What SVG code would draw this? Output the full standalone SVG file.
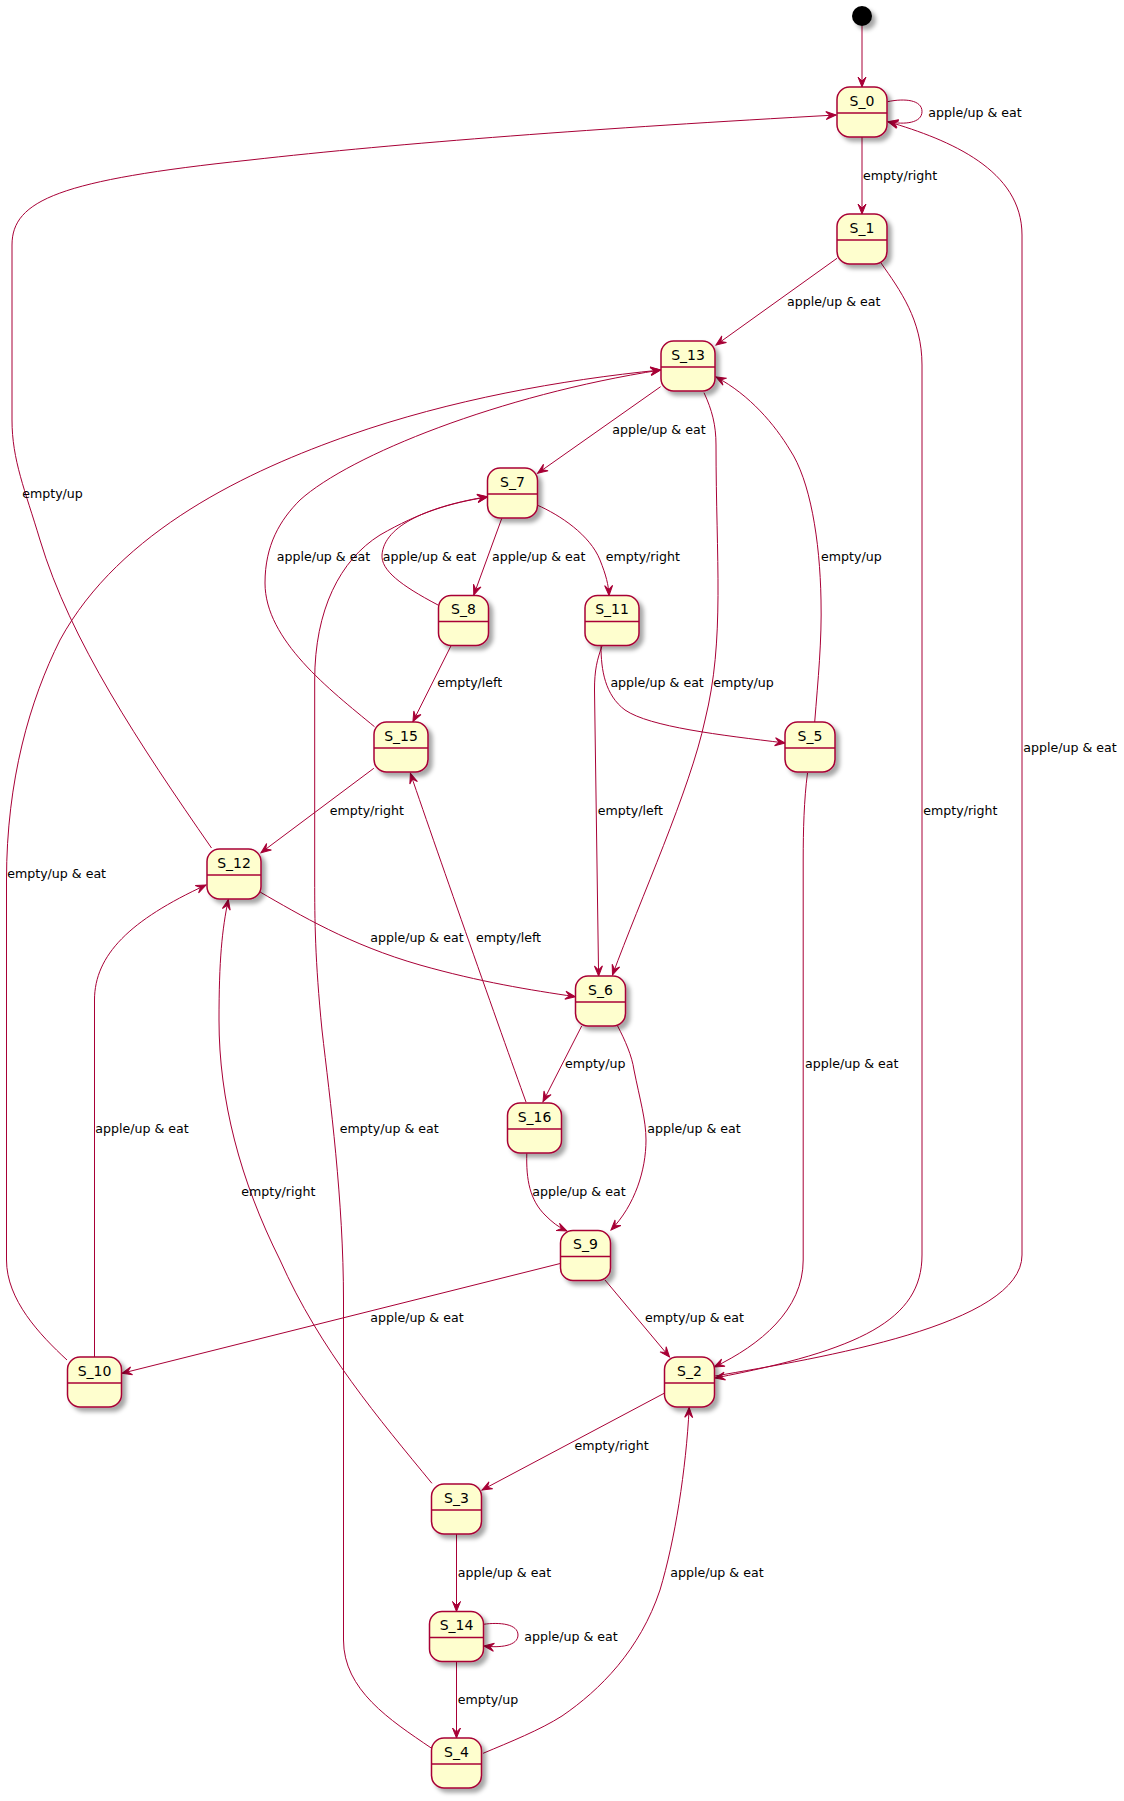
<svg xmlns="http://www.w3.org/2000/svg" width="1124" height="1801" viewBox="0 0 1124 1801">
<style>
.st{fill:#FEFECE;stroke:#A80036;stroke-width:1.5;filter:url(#sh)}
.dv{stroke:#A80036;stroke-width:1.5}
.nm{font-family:"DejaVu Sans",sans-serif;font-size:14px;fill:#000;text-anchor:middle}
.lb{font-family:"DejaVu Sans",sans-serif;font-size:12.6px;fill:#000}
.e{fill:none;stroke:#A80036;stroke-width:1;marker-end:url(#ah)}
</style>
<defs>
<filter id="sh" x="-20%" y="-20%" width="160%" height="160%">
<feDropShadow dx="4" dy="4" stdDeviation="2" flood-color="#000" flood-opacity="0.35"/>
</filter>
<marker id="ah" markerUnits="userSpaceOnUse" markerWidth="12" markerHeight="12" refX="0" refY="0" orient="auto" overflow="visible">
<path d="M0,0 L-10,-4 L-6,0 L-10,4 Z" fill="#A80036" stroke="#A80036" stroke-width="1"/>
</marker>
</defs>
<rect width="1124" height="1801" fill="#FFFFFF"/>

<g id="connectors">
<path class="e" d="M862,26 L862,87"/>
<path class="e" d="M887.5,101.7 C905,98 922,100 922,111.5 C922,123 905,125 888,121.7"/>
<path class="e" d="M862,137 L862,214"/>
<path class="e" d="M837,258.3 L716,345"/>
<path class="e" d="M881,263 C900,290 922,320 922,365 L922,1255 C922,1320 860,1350 715,1378"/>
<path class="e" d="M715,1376 C820,1358 1022,1325 1022,1255 L1022,235 C1022,170 950,140 888,121.7"/>
<path class="e" d="M660.6,386.7 L537.6,473.3"/>
<path class="e" d="M704,392.7 C712,410 716,425 716,445 C716,560 725,640 705,720 C690,790 640,900 612.5,975"/>
<path class="e" d="M814.7,722 C818,680 822,640 821,600 C820,540 810,480 790,450 C775,425 750,395 716,377"/>
<path class="e" d="M211.5,848 C140,745 70,640 40,540 C25,490 12,460 12,420 L12,245 C12,200 60,180 250,160 C400,143 600,128 836,115"/>
<path class="e" d="M67,1360 C40,1335 6.5,1300 6.5,1260 L6.5,880 C6.5,780 30,700 60,640 C120,530 250,470 350,435 C450,400 560,380 660.6,370"/>
<path class="e" d="M374.5,726.7 C330,690 265,640 265,583 C265,545 280,520 300,500 C350,455 500,395 660.6,370"/>
<path class="e" d="M501.8,518.3 L473.8,595"/>
<path class="e" d="M537,505 C560,515 590,535 600,560 C606,575 608.6,585 609,595.5"/>
<path class="e" d="M438,605 C400,585 381,570 382,555 C384,525 430,506 487.4,496.7"/>
<path class="e" d="M431.2,1748 C390,1720 343.5,1690 343.5,1640 L343.5,1300 C343.5,1200 330,1100 322,1030 C315,960 314.7,920 314.7,880 L314.7,680 C314.7,610 340,560 380,535 C420,512 450,503 487.4,497"/>
<path class="e" d="M450.9,646 L412.9,721.7"/>
<path class="e" d="M602,646 C597,660 594.5,670 594.5,690 L598.6,976"/>
<path class="e" d="M601,646 C601,670 605,695 625,710 C650,727 720,735 785,743"/>
<path class="e" d="M373.8,768.3 L261,852.7"/>
<path class="e" d="M259.5,891.7 C300,915 350,945 420,965 C480,982 530,990 575.3,996.7"/>
<path class="e" d="M94.5,1357 L94.5,1000 C94.5,955 130,920 206,885"/>
<path class="e" d="M526,1102 C500,1030 440,860 410.4,773.3"/>
<path class="e" d="M581.7,1026 L543,1101.7"/>
<path class="e" d="M617.6,1026 C625,1040 632,1056 634,1070 C640,1100 646,1120 646,1140 C646,1170 635,1205 611,1230"/>
<path class="e" d="M526.8,1153.3 C526,1180 530,1200 545,1215 C552,1222 558,1227 567,1231"/>
<path class="e" d="M605,1280 L669.5,1357"/>
<path class="e" d="M561,1263.3 L121.9,1373.3"/>
<path class="e" d="M807.5,773 C804,800 803.2,830 803.2,860 L803.2,1260 C803.2,1310 760,1345 714.3,1367"/>
<path class="e" d="M664.1,1393.3 L482,1490"/>
<path class="e" d="M431.9,1483.3 C380,1420 320,1350 280,1260 C240,1180 219,1100 219,1020 C219,960 222,930 228.3,899.5"/>
<path class="e" d="M456.5,1534 L456.5,1611.5"/>
<path class="e" d="M483.5,1624.3 C500,1622 518,1624 518,1635 C518,1646 500,1648 484,1646"/>
<path class="e" d="M456.5,1661.5 L456.5,1738"/>
<path class="e" d="M483.1,1753.3 C510,1742 540,1730 562,1716 C600,1690 640,1650 660,1590 C675,1540 686,1470 689.2,1407.5"/>

<text class="lb" x="928.3" y="116.5">apple/up &amp; eat</text>
<text class="lb" x="863" y="179.5">empty/right</text>
<text class="lb" x="787" y="306.3">apple/up &amp; eat</text>
<text class="lb" x="612.2" y="434">apple/up &amp; eat</text>
<text class="lb" x="22.2" y="497.7">empty/up</text>
<text class="lb" x="276.7" y="560.7">apple/up &amp; eat</text>
<text class="lb" x="382.8" y="560.7">apple/up &amp; eat</text>
<text class="lb" x="492" y="560.7">apple/up &amp; eat</text>
<text class="lb" x="605.7" y="560.7">empty/right</text>
<text class="lb" x="821.1" y="560.7">empty/up</text>
<text class="lb" x="437.2" y="687.3">empty/left</text>
<text class="lb" x="610.4" y="687.3">apple/up &amp; eat</text>
<text class="lb" x="713.2" y="687.3">empty/up</text>
<text class="lb" x="329.7" y="814.7">empty/right</text>
<text class="lb" x="597.8" y="814.7">empty/left</text>
<text class="lb" x="923.3" y="814.7">empty/right</text>
<text class="lb" x="1023.3" y="751.7">apple/up &amp; eat</text>
<text class="lb" x="7.2" y="878.3">empty/up &amp; eat</text>
<text class="lb" x="370.2" y="941.7">apple/up &amp; eat</text>
<text class="lb" x="476" y="941.7">empty/left</text>
<text class="lb" x="564.9" y="1068.3">empty/up</text>
<text class="lb" x="805" y="1068.3">apple/up &amp; eat</text>
<text class="lb" x="95.3" y="1132.7">apple/up &amp; eat</text>
<text class="lb" x="339.8" y="1132.7">empty/up &amp; eat</text>
<text class="lb" x="647.3" y="1132.7">apple/up &amp; eat</text>
<text class="lb" x="241.2" y="1195.7">empty/right</text>
<text class="lb" x="532.2" y="1195.7">apple/up &amp; eat</text>
<text class="lb" x="370.2" y="1322.3">apple/up &amp; eat</text>
<text class="lb" x="645.1" y="1322.3">empty/up &amp; eat</text>
<text class="lb" x="574.5" y="1449.7">empty/right</text>
<text class="lb" x="457.7" y="1576.7">apple/up &amp; eat</text>
<text class="lb" x="670.2" y="1576.7">apple/up &amp; eat</text>
<text class="lb" x="524.3" y="1640.7">apple/up &amp; eat</text>
<text class="lb" x="457.7" y="1704">empty/up</text>
</g>

<g id="start"><circle cx="862" cy="16" r="10" fill="#000" filter="url(#sh)"/></g>

<g id="S_0"><rect class="st" x="837" y="87" width="50" height="50" rx="12.5"/><line class="dv" x1="837" y1="113" x2="887" y2="113"/><text class="nm" x="862" y="105.5">S_0</text></g>
<g id="S_1"><rect class="st" x="837" y="214" width="50" height="50" rx="12.5"/><line class="dv" x1="837" y1="240" x2="887" y2="240"/><text class="nm" x="862" y="232.5">S_1</text></g>
<g id="S_13"><rect class="st" x="661" y="341" width="54" height="50" rx="12.5"/><line class="dv" x1="661" y1="367" x2="715" y2="367"/><text class="nm" x="688" y="359.5">S_13</text></g>
<g id="S_7"><rect class="st" x="487.5" y="468" width="50" height="50" rx="12.5"/><line class="dv" x1="487.5" y1="494" x2="537.5" y2="494"/><text class="nm" x="512.5" y="486.5">S_7</text></g>
<g id="S_8"><rect class="st" x="438.5" y="595.5" width="50" height="50" rx="12.5"/><line class="dv" x1="438.5" y1="621.5" x2="488.5" y2="621.5"/><text class="nm" x="463.5" y="614">S_8</text></g>
<g id="S_11"><rect class="st" x="585" y="595.5" width="54" height="50" rx="12.5"/><line class="dv" x1="585" y1="621.5" x2="639" y2="621.5"/><text class="nm" x="612" y="614">S_11</text></g>
<g id="S_15"><rect class="st" x="374" y="722" width="54" height="50" rx="12.5"/><line class="dv" x1="374" y1="748" x2="428" y2="748"/><text class="nm" x="401" y="740.5">S_15</text></g>
<g id="S_5"><rect class="st" x="785" y="722" width="50" height="50" rx="12.5"/><line class="dv" x1="785" y1="748" x2="835" y2="748"/><text class="nm" x="810" y="740.5">S_5</text></g>
<g id="S_12"><rect class="st" x="207" y="849" width="54" height="50" rx="12.5"/><line class="dv" x1="207" y1="875" x2="261" y2="875"/><text class="nm" x="234" y="867.5">S_12</text></g>
<g id="S_6"><rect class="st" x="575.5" y="976" width="50" height="50" rx="12.5"/><line class="dv" x1="575.5" y1="1002" x2="625.5" y2="1002"/><text class="nm" x="600.5" y="994.5">S_6</text></g>
<g id="S_16"><rect class="st" x="507.5" y="1103" width="54" height="50" rx="12.5"/><line class="dv" x1="507.5" y1="1129" x2="561.5" y2="1129"/><text class="nm" x="534.5" y="1121.5">S_16</text></g>
<g id="S_9"><rect class="st" x="560.5" y="1230.5" width="50" height="50" rx="12.5"/><line class="dv" x1="560.5" y1="1256.5" x2="610.5" y2="1256.5"/><text class="nm" x="585.5" y="1249">S_9</text></g>
<g id="S_10"><rect class="st" x="67.5" y="1357" width="54" height="50" rx="12.5"/><line class="dv" x1="67.5" y1="1383" x2="121.5" y2="1383"/><text class="nm" x="94.5" y="1375.5">S_10</text></g>
<g id="S_2"><rect class="st" x="664.5" y="1357" width="50" height="50" rx="12.5"/><line class="dv" x1="664.5" y1="1383" x2="714.5" y2="1383"/><text class="nm" x="689.5" y="1375.5">S_2</text></g>
<g id="S_3"><rect class="st" x="431.5" y="1484" width="50" height="50" rx="12.5"/><line class="dv" x1="431.5" y1="1510" x2="481.5" y2="1510"/><text class="nm" x="456.5" y="1502.5">S_3</text></g>
<g id="S_14"><rect class="st" x="429.5" y="1611.5" width="54" height="50" rx="12.5"/><line class="dv" x1="429.5" y1="1637.5" x2="483.5" y2="1637.5"/><text class="nm" x="456.5" y="1630">S_14</text></g>
<g id="S_4"><rect class="st" x="431.5" y="1738" width="50" height="50" rx="12.5"/><line class="dv" x1="431.5" y1="1764" x2="481.5" y2="1764"/><text class="nm" x="456.5" y="1756.5">S_4</text></g>
</svg>
